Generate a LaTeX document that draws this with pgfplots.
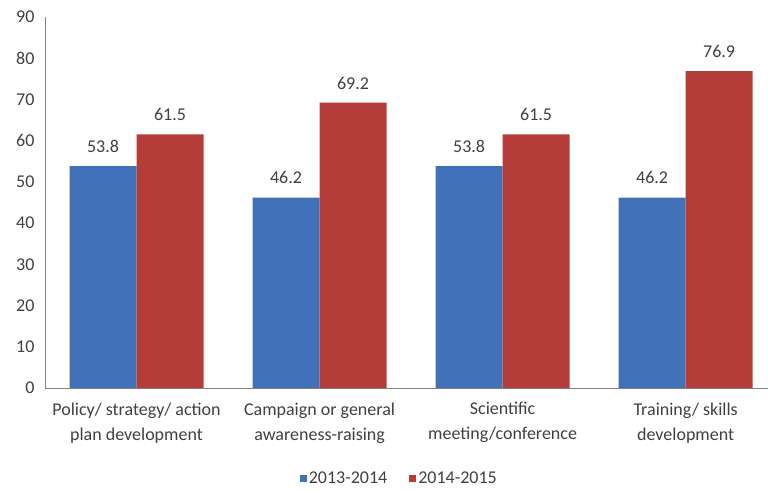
\documentclass[border=0pt]{standalone}
\usepackage{pgfplots}
\pgfplotsset{compat=1.18}
\usepackage{fontspec}
\setmainfont{Carlito}
\definecolor{serA}{RGB}{65,113,185}
\definecolor{serB}{RGB}{180,60,57}
\definecolor{txt}{RGB}{64,64,64}
\definecolor{axl}{RGB}{134,134,134}
\begin{document}
\begin{tikzpicture}
\begin{axis}[
  width=723pt, height=371pt, scale only axis,
  ybar=0pt, bar width=67pt,
  xmin=-0.5, xmax=3.45, ymin=0, ymax=90,
  ytick={0,10,...,90},
  xtick={0,1,2,3},
  xticklabels={{Policy/ strategy/ action\\plan development},{Campaign or general\\awareness-raising},{Scientific\\meeting/conference},{Training/ skills\\development}},
  xticklabel style={align=center, font=\fontsize{18}{25}\selectfont, text=txt, yshift=-11pt},
  yticklabel style={font=\fontsize{18}{20}\selectfont, text=txt, xshift=-7pt},
  /pgf/number format/assume math mode=true,
  axis x line*=bottom, axis y line*=left,
  axis line style={axl, line width=1pt, -},
  major tick length=0pt,
  nodes near coords,
  nodes near coords style={font=\fontsize{18}{20}\selectfont, text=txt, yshift=10pt, /pgf/number format/fixed, /pgf/number format/precision=1, /pgf/number format/fixed zerofill},
  legend style={at={(axis description cs:0.49,-0.243)}, anchor=center, draw=none, legend columns=2, font=\fontsize{18}{20}\selectfont, text=txt, /tikz/every even column/.append style={column sep=20pt}},
  legend image code/.code={\fill[#1] (0pt,-3.5pt) rectangle (7pt,3.5pt);},
]
\addplot[fill=serA, draw=none] coordinates {(0,53.8) (1,46.2) (2,53.8) (3,46.2)};
\addplot[fill=serB, draw=none] coordinates {(0,61.5) (1,69.2) (2,61.5) (3,76.9)};
\legend{2013-2014, 2014-2015}
\end{axis}
\path (-45pt,-102pt) (726pt,388pt);
\end{tikzpicture}
\end{document}
